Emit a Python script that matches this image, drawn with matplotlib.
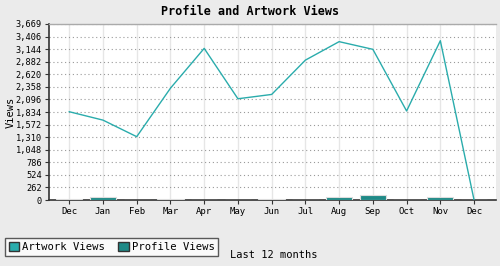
import numpy as np
import matplotlib
matplotlib.use("Agg")
import matplotlib.pyplot as plt
from matplotlib.patches import Patch

# Data
months = ["Dec", "Jan", "Feb", "Mar", "Apr", "May", "Jun",
          "Jul", "Aug", "Sep", "Oct", "Nov", "Dec"]
artwork_views = [1840, 1665, 1320, 2330, 3160, 2110, 2200,
                 2915, 3300, 3140, 1855, 3320, 0]
profile_views = [30, 65, 0, 30, 0, 0, 30, 0, 65, 110, 0, 65, 0]
yticks = [0, 262, 524, 786, 1048, 1310, 1572, 1834, 2096,
          2358, 2620, 2882, 3144, 3406, 3669]

line_color = "#2aacac"
bar_color = "#1f8a87"
bg = "#ebebeb"
font = "DejaVu Sans Mono"

plt.rcParams["font.family"] = font

fig = plt.figure(figsize=(5.0, 2.66), dpi=100, facecolor=bg)
ax = fig.add_axes([0.098, 0.248, 0.894, 0.662])
ax.set_facecolor("white")

x = np.arange(len(months))
ax.bar(x, profile_views, width=0.78, color=bar_color,
       edgecolor="#dddddd", linewidth=0.8, zorder=3)
ax.plot(x, artwork_views, color=line_color, linewidth=1.0, zorder=4)

ax.set_xlim(-0.6, len(months) - 1 + 0.65)
ax.set_ylim(0, 3669)
ax.set_xticks(x)
ax.set_xticklabels(months, fontsize=6.5)
ax.set_yticks(yticks)
ax.set_yticklabels([f"{v:,}" for v in yticks], fontsize=6.2)
ax.tick_params(axis="both", length=3, width=0.8, color="#333333", pad=2)

# grid: solid vertical, dotted horizontal
for xi in x:
    ax.axvline(xi, color="#e6e6e6", linewidth=1.0, zorder=1)
for yv in yticks[1:]:
    ax.axhline(yv, color="#999999", linewidth=0.8, linestyle=(0, (1, 2.5)), zorder=2)

ax.spines["top"].set_color("#aaaaaa")
ax.spines["top"].set_linewidth(1.0)
ax.spines["right"].set_visible(False)
for side in ["left", "bottom"]:
    ax.spines[side].set_color("#333333")
    ax.spines[side].set_linewidth(1.2)

ax.set_ylabel("Views", fontsize=7.5, labelpad=0)
fig.text(0.5, 0.955, "Profile and Artwork Views", ha="center", va="center",
         fontsize=8.5, fontweight="bold")

handles = [Patch(facecolor=line_color, edgecolor="#333333", label="Artwork Views"),
           Patch(facecolor=bar_color, edgecolor="#333333", label="Profile Views")]
leg = fig.legend(handles=handles, loc="lower left", bbox_to_anchor=(0.01, 0.038),
                 ncol=2, fontsize=7.6, frameon=True, fancybox=False,
                 handlelength=1.0, handleheight=1.0, handletextpad=0.3,
                 columnspacing=1.2, borderpad=0.35, borderaxespad=0)
leg.get_frame().set_edgecolor("#333333")
leg.get_frame().set_linewidth(1.0)

fig.text(0.46, 0.04, "Last 12 months", ha="left", va="center", fontsize=7.5)

fig.savefig("out.png", dpi=100, facecolor=bg)
